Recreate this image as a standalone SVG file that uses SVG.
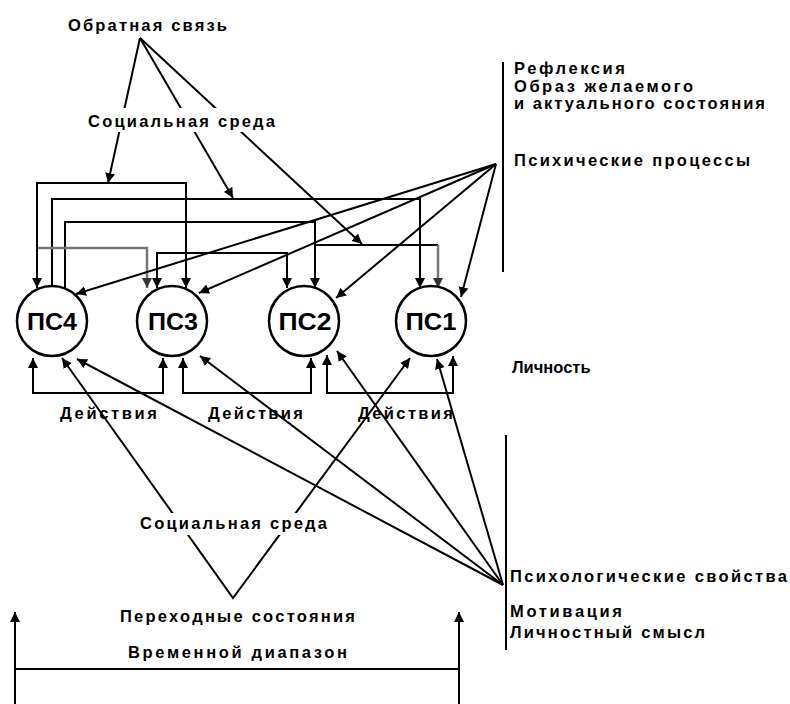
<svg xmlns="http://www.w3.org/2000/svg" width="790" height="704" viewBox="0 0 790 704">
<style>
.ln{fill:none;stroke:#000;stroke-width:2}
.gr{fill:none;stroke:#777;stroke-width:2.5}
.t{font-family:"Liberation Sans",Arial,sans-serif;font-weight:bold;font-size:16.5px;fill:#000}
.ps{font-family:"Liberation Sans",Arial,sans-serif;font-weight:bold;font-size:24px;fill:#000;text-anchor:middle}
.nd{fill:#fff;stroke:#000;stroke-width:2.5}
</style>
<defs>
<marker id="ar" markerUnits="userSpaceOnUse" markerWidth="11" markerHeight="10" refX="10" refY="5" orient="auto-start-reverse">
<path d="M0,0 L10,5 L0,10 z" fill="#000"/>
</marker>
<marker id="arg" markerUnits="userSpaceOnUse" markerWidth="11" markerHeight="10" refX="10" refY="5" orient="auto">
<path d="M0,0 L10,5 L0,10 z" fill="#333"/>
</marker>
</defs>
<rect width="790" height="704" fill="#fff"/>
<g id="connectors">
<path class="ln" d="M140,38 L108,183" marker-end="url(#ar)"/>
<path class="ln" d="M140,38 L233,198" marker-end="url(#ar)"/>
<path class="ln" d="M140,38 L362,244" marker-end="url(#ar)"/>
<path class="ln" d="M37,288 V183 H186 V288" marker-start="url(#ar)" marker-end="url(#ar)"/>
<path class="ln" d="M52,287 V199 H420 V288" marker-end="url(#ar)"/>
<path class="ln" d="M65,289 V222 H315 V288" marker-end="url(#ar)"/>
<path class="gr" d="M38,248 H147 V288" marker-end="url(#arg)"/>
<path class="ln" d="M157,288 V253 H287 V288" marker-start="url(#ar)" marker-end="url(#ar)"/>
<path class="ln" d="M315,245 H438"/>
<path class="gr" d="M438,245 V288" marker-end="url(#arg)"/>
<path class="ln" d="M503,62 V272"/>
<path class="ln" d="M496,164 L76,294" marker-end="url(#ar)"/>
<path class="ln" d="M496,164 L199,293" marker-end="url(#ar)"/>
<path class="ln" d="M496,164 L336,298" marker-end="url(#ar)"/>
<path class="ln" d="M496,164 L461,297" marker-end="url(#ar)"/>
<path class="ln" d="M33,358 V393 H163 V358" marker-start="url(#ar)" marker-end="url(#ar)"/>
<path class="ln" d="M183,358 V393 H311 V358" marker-start="url(#ar)" marker-end="url(#ar)"/>
<path class="ln" d="M327,355 V393 H453 V356" marker-start="url(#ar)" marker-end="url(#ar)"/>
<path class="ln" d="M506,435 V650"/>
<path class="ln" d="M503,585 L77,359" marker-end="url(#ar)"/>
<path class="ln" d="M503,585 L200,356" marker-end="url(#ar)"/>
<path class="ln" d="M503,585 L337,351" marker-end="url(#ar)"/>
<path class="ln" d="M503,585 L437,359" marker-end="url(#ar)"/>
<path class="ln" d="M62,358 L233,598 L410,358" marker-start="url(#ar)" marker-end="url(#ar)"/>
<path class="ln" d="M15,704 V612" marker-end="url(#ar)"/>
<path class="ln" d="M459,704 V612" marker-end="url(#ar)"/>
<path class="ln" d="M15,669 H459"/>
</g>
<g id="ps4"><circle class="nd" cx="52" cy="321" r="35"/><text class="ps" x="52" y="330" textLength="50" lengthAdjust="spacingAndGlyphs">ПС4</text></g>
<g id="ps3"><circle class="nd" cx="172" cy="321" r="35"/><text class="ps" x="173" y="330" textLength="50" lengthAdjust="spacingAndGlyphs">ПС3</text></g>
<g id="ps2"><circle class="nd" cx="304" cy="321" r="35"/><text class="ps" x="305" y="330" textLength="53" lengthAdjust="spacingAndGlyphs">ПС2</text></g>
<g id="ps1"><circle class="nd" cx="431" cy="321" r="35"/><text class="ps" x="431" y="330" textLength="51" lengthAdjust="spacingAndGlyphs">ПС1</text></g>
<g id="labels">
<text class="t" x="68" y="31" textLength="159" lengthAdjust="spacing">Обратная связь</text>
<rect x="84" y="108" width="196" height="24" fill="#fff"/>
<text class="t" x="88" y="127" textLength="187" lengthAdjust="spacing">Социальная среда</text>
<text class="t" x="514" y="74" textLength="111" lengthAdjust="spacing">Рефлексия</text>
<text class="t" x="514" y="92" textLength="179" lengthAdjust="spacing">Образ желаемого</text>
<text class="t" x="514" y="109" textLength="251" lengthAdjust="spacing">и актуального состояния</text>
<text class="t" x="514" y="166" textLength="236" lengthAdjust="spacing">Психические процессы</text>
<text class="t" x="512" y="373">Личность</text>
<text class="t" x="60" y="419" textLength="97" lengthAdjust="spacing">Действия</text>
<text class="t" x="208" y="419" textLength="95" lengthAdjust="spacing">Действия</text>
<text class="t" x="358" y="419" textLength="95" lengthAdjust="spacing">Действия</text>
<rect x="136" y="513" width="196" height="22" fill="#fff"/>
<text class="t" x="140" y="529" textLength="187" lengthAdjust="spacing">Социальная среда</text>
<text class="t" x="510" y="582" textLength="277" lengthAdjust="spacing">Психологические свойства</text>
<text class="t" x="510" y="617" textLength="112" lengthAdjust="spacing">Мотивация</text>
<text class="t" x="510" y="638" textLength="195" lengthAdjust="spacing">Личностный смысл</text>
<text class="t" x="120" y="622" textLength="235" lengthAdjust="spacing">Переходные состояния</text>
<text class="t" x="128" y="658" textLength="219" lengthAdjust="spacing">Временной диапазон</text>
</g>
</svg>
